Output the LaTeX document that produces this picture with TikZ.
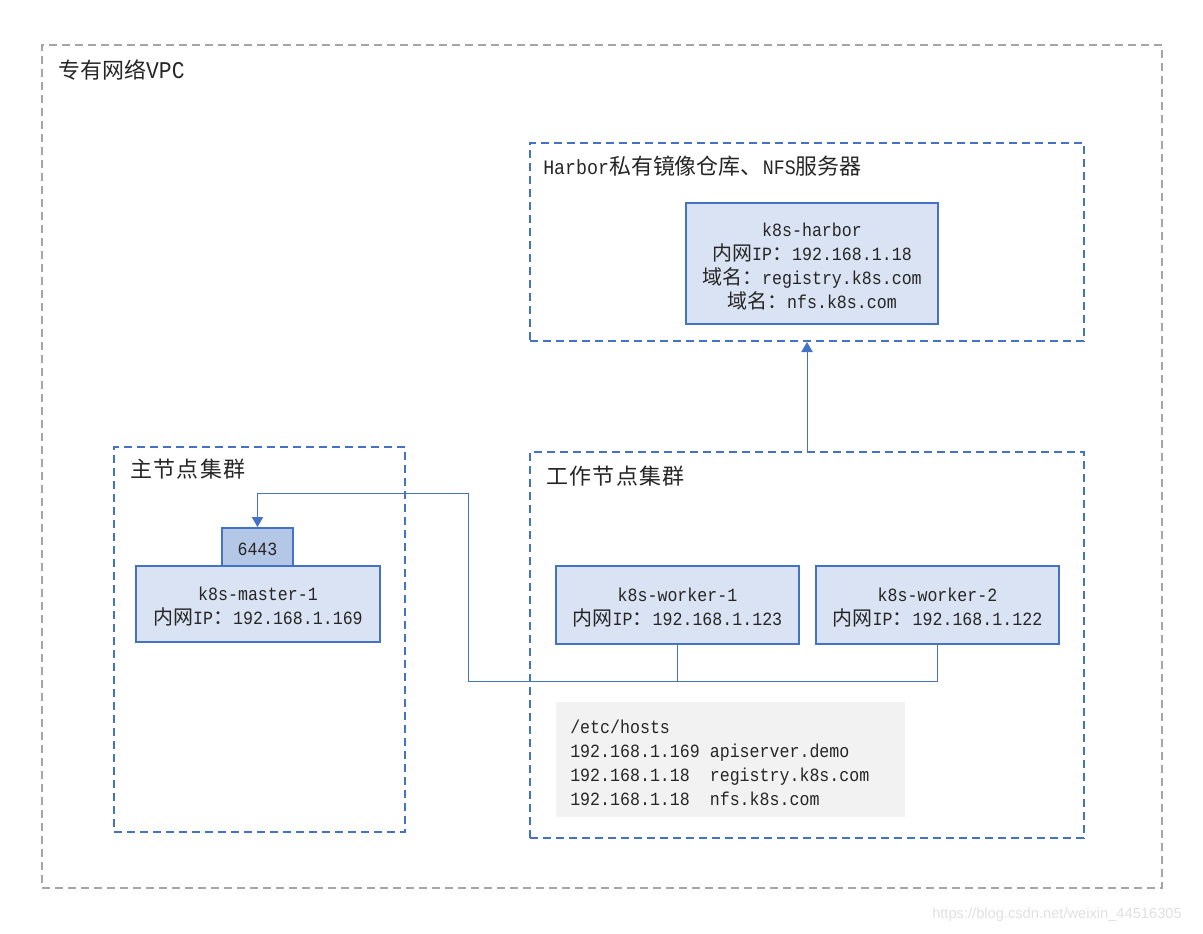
\documentclass[tikz,border=0pt]{standalone}
\usepackage{fontspec}
\setmainfont{Liberation Mono}[FakeStretch=0.89]
\newfontfamily\cjk{Noto Sans CJK SC}[Scale=1.07]
\newfontfamily\wmfont{Liberation Sans}
\usetikzlibrary{arrows.meta}
\definecolor{blueline}{HTML}{4472C4}
\definecolor{boxfill}{HTML}{DAE3F3}
\definecolor{portfill}{HTML}{B4C7E7}
\definecolor{graydash}{HTML}{A5A5A5}
\definecolor{hostgray}{HTML}{F2F2F2}
\definecolor{txt}{HTML}{262626}
\newcommand{\mysp}{\phantom{0}}
\tikzset{
  x=0.75pt, y=-0.75pt,
  bodyfont/.style={font=\fontsize{14}{18}\selectfont, text=txt},
  titlefont/.style={font=\fontsize{15.4}{18}\selectfont, text=txt},
  group/.style={draw=blueline, line width=1.5pt, dash pattern=on 6pt off 3.75pt, anchor=north west, inner sep=0pt},
  outergroup/.style={draw=graydash, line width=1.5pt, dash pattern=on 6pt off 3.75pt, anchor=north west, inner sep=0pt},
  hostbox/.style={draw=blueline, line width=1.5pt, fill=boxfill, inner sep=0pt},
  portbox/.style={draw=blueline, line width=1.5pt, fill=portfill, inner sep=0pt},
  boxtext/.style={bodyfont, align=center, inner sep=0pt, yshift=-2.25pt},
  grouplabel/.style={titlefont, anchor=west, inner sep=0pt},
  conn/.style={draw=blueline, line width=0.75pt},
  tip/.style={-{Triangle[width=8.5pt,length=7.5pt]}},
}
\begin{document}
\begin{tikzpicture}
\useasboundingbox (0,0) rectangle (1203,934);

% groups
\node[outergroup, minimum width=840pt, minimum height=632.25pt] (vpc) at (41,44) {};
\node[grouplabel] (vpclabel) at (58,70) {{\cjk 专有网络}{\fontsize{18}{18}\selectfont VPC}};

\node[group, minimum width=415.5pt, minimum height=148.5pt] (hgroup) at (529,142) {};
\node[grouplabel] (hlabel) at (543,166) {Harbor{\cjk 私有镜像仓库、}NFS{\cjk 服务器}};

\node[group, minimum width=218.25pt, minimum height=288.75pt] (mgroup) at (113,446) {};
\node[grouplabel] (mlabel) at (130,469) {\cjk 主\kern1pt 节\kern1pt 点\kern1pt 集\kern1pt 群};

\node[group, minimum width=415.5pt, minimum height=289.5pt] (wgroup) at (529,451) {};
\node[grouplabel] (wlabel) at (546,476) {\cjk 工\kern1pt 作\kern1pt 节\kern1pt 点\kern1pt 集\kern1pt 群};

% boxes
\node[hostbox, minimum width=189pt, minimum height=90.75pt] (harbor) at (812,263.5) {};
\node[boxtext] (harbortext) at (harbor.center)
  {k8s-harbor\\{\cjk 内网}IP{\cjk ：}192.168.1.18\\{\cjk 域名：}registry.k8s.com\\{\cjk 域名：}nfs.k8s.com};

\node[hostbox, minimum width=183pt, minimum height=57pt] (master) at (258,604) {};
\node[boxtext] (mastertext) at (master.center)
  {k8s-master-1\\{\cjk 内网}IP{\cjk ：}192.168.1.169};
\node[portbox, minimum width=53.25pt, minimum height=28.5pt] (port) at (257.5,547) {};
\node[boxtext, yshift=0.75pt] (porttext) at (port.center) {6443};

\node[hostbox, minimum width=182.25pt, minimum height=58.5pt] (w1) at (677.5,605) {};
\node[boxtext] (w1text) at (w1.center)
  {k8s-worker-1\\{\cjk 内网}IP{\cjk ：}192.168.1.123};
\node[hostbox, minimum width=182.25pt, minimum height=58.5pt] (w2) at (937.5,605) {};
\node[boxtext] (w2text) at (w2.center)
  {k8s-worker-2\\{\cjk 内网}IP{\cjk ：}192.168.1.122};

\node[fill=hostgray, anchor=north west, minimum width=261.75pt, minimum height=86.25pt, inner sep=0pt] (hosts) at (556,702) {};
\node[boxtext, align=left, anchor=west, xshift=10.5pt] (hoststext) at (hosts.west)
  {/etc/hosts\\192.168.1.169\mysp apiserver.demo\\192.168.1.18\mysp\mysp registry.k8s.com\\192.168.1.18\mysp\mysp nfs.k8s.com};

% connectors
\coordinate (j1) at (468,681);
\coordinate (j2) at (468,493);
\draw[conn] (w1.south) -- (w1.south |- j1);
\draw[conn, tip] (w2.south) |- (j1) -- (j2) -| (port.north);
\draw[conn, tip] (wgroup.north) -- (hgroup.south);

% watermark
\node[font=\wmfont\fontsize{11}{13}\selectfont, text=black!12, inner sep=0pt] (wm) at (1057,915)
  {https://blog.csdn.net/weixin\_44516305};
\end{tikzpicture}
\end{document}
